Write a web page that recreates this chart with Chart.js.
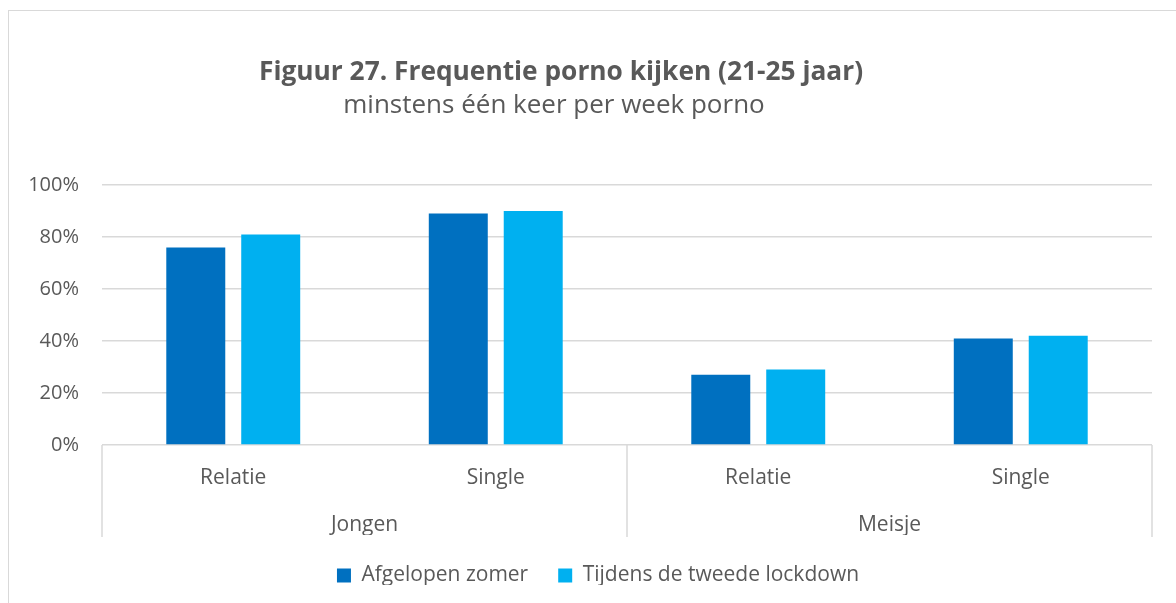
<!DOCTYPE html>
<html>
<head>
<meta charset="utf-8">
<script src="https://cdn.jsdelivr.net/npm/chart.js@4"></script>
<style>
  html, body { margin: 0; padding: 0; background: #ffffff; }
  body { width: 1176px; height: 603px; position: relative; overflow: hidden; font-family: "Open Sans", sans-serif; }
  #frame { position: absolute; left: 8px; top: 10px; width: 1200px; height: 700px; border: 1px solid #d9d9d9; box-sizing: border-box; }
  #title { position: absolute; left: 0; width: 1122px; top: 57px; text-align: center; font: bold 26.3px/26px "Open Sans", sans-serif; color: #595959; white-space: nowrap; }
  #subtitle { position: absolute; left: 0; width: 1108px; top: 90px; text-align: center; font: 26px/26px "Open Sans", sans-serif; color: #595959; white-space: nowrap; }
  #c { position: absolute; left: 0; top: 0; }
</style>
</head>
<body>
<div id="frame"></div>
<canvas id="c" width="1176" height="603"></canvas>
<div id="title">Figuur 27. Frequentie porno kijken (21-25 jaar)</div>
<div id="subtitle">minstens één keer per week porno</div>
<script>
const categories = ['Relatie', 'Single', 'Relatie', 'Single'];
const groups = ['Jongen', 'Meisje'];
const seriesNames = ['Afgelopen zomer', 'Tijdens de tweede lockdown'];
const afgelopenZomer = [76, 89, 27, 41];
const tweedeLockdown = [81, 90, 29, 42];
const yTicks = [0, 20, 40, 60, 80, 100];

const gridColor = '#d9d9d9';
const textColor = '#595959';

const separatorPlugin = {
  id: 'groupSeparators',
  afterDraw(chart) {
    const xs = chart.scales.x;
    const ctx = chart.ctx;
    const area = chart.chartArea;
    const mid = (xs.getPixelForValue(1) + xs.getPixelForValue(2)) / 2;
    const xsPos = [area.left, mid, area.right];
    ctx.save();
    ctx.strokeStyle = gridColor;
    ctx.lineWidth = 1.5;
    xsPos.forEach(x => {
      ctx.beginPath();
      ctx.moveTo(x, area.bottom);
      ctx.lineTo(x, 537);
      ctx.stroke();
    });
    ctx.restore();
  }
};

new Chart(document.getElementById('c'), {
  type: 'bar',
  data: {
    labels: categories,
    datasets: [
      { label: seriesNames[0], data: afgelopenZomer, backgroundColor: '#0070C0', borderWidth: 0 },
      { label: seriesNames[1], data: tweedeLockdown, backgroundColor: '#00B0F0', borderWidth: 0 }
    ]
  },
  options: {
    responsive: false,
    animation: false,
    categoryPercentage: 0.571,
    barPercentage: 0.787,
    layout: { padding: { top: 185, right: 0, left: 20, bottom: 18 } },
    plugins: {
      title: { display: false },
      tooltip: { enabled: false },
      legend: {
        position: 'bottom',
        maxHeight: 50,
        labels: {
          boxWidth: 14,
          boxHeight: 14,
          padding: 30,
          color: textColor,
          font: { family: 'Open Sans', size: 21 }
        }
      }
    },
    scales: {
      x: {
        position: 'bottom',
        grid: { display: false },
        border: { display: false },
        ticks: { color: textColor, font: { family: 'Open Sans', size: 21 }, padding: 12, maxRotation: 0 },
        afterFit(scale) { scale.height = 58; }
      },
      x2: {
        type: 'category',
        position: 'bottom',
        labels: groups,
        offset: true,
        grid: { display: false },
        border: { display: false },
        ticks: { color: textColor, font: { family: 'Open Sans', size: 21 }, padding: 1, maxRotation: 0 },
        afterFit(scale) { scale.height = 32; }
      },
      y: {
        min: 0,
        max: 100,
        afterBuildTicks(scale) { scale.ticks = yTicks.map(v => ({ value: v })); },
        grid: { color: gridColor, lineWidth: 1.5, drawTicks: false },
        border: { display: false },
        ticks: { color: textColor, font: { family: 'Open Sans', size: 20 }, padding: 23, callback: v => v + '%' },
        afterFit(scale) { scale.width = 82; }
      },
      yRight: {
        position: 'right',
        min: 0,
        max: 100,
        grid: { display: false },
        border: { display: false },
        ticks: { display: false },
        afterFit(scale) { scale.width = 24; }
      }
    }
  },
  plugins: [separatorPlugin]
});
</script>
</body>
</html>
